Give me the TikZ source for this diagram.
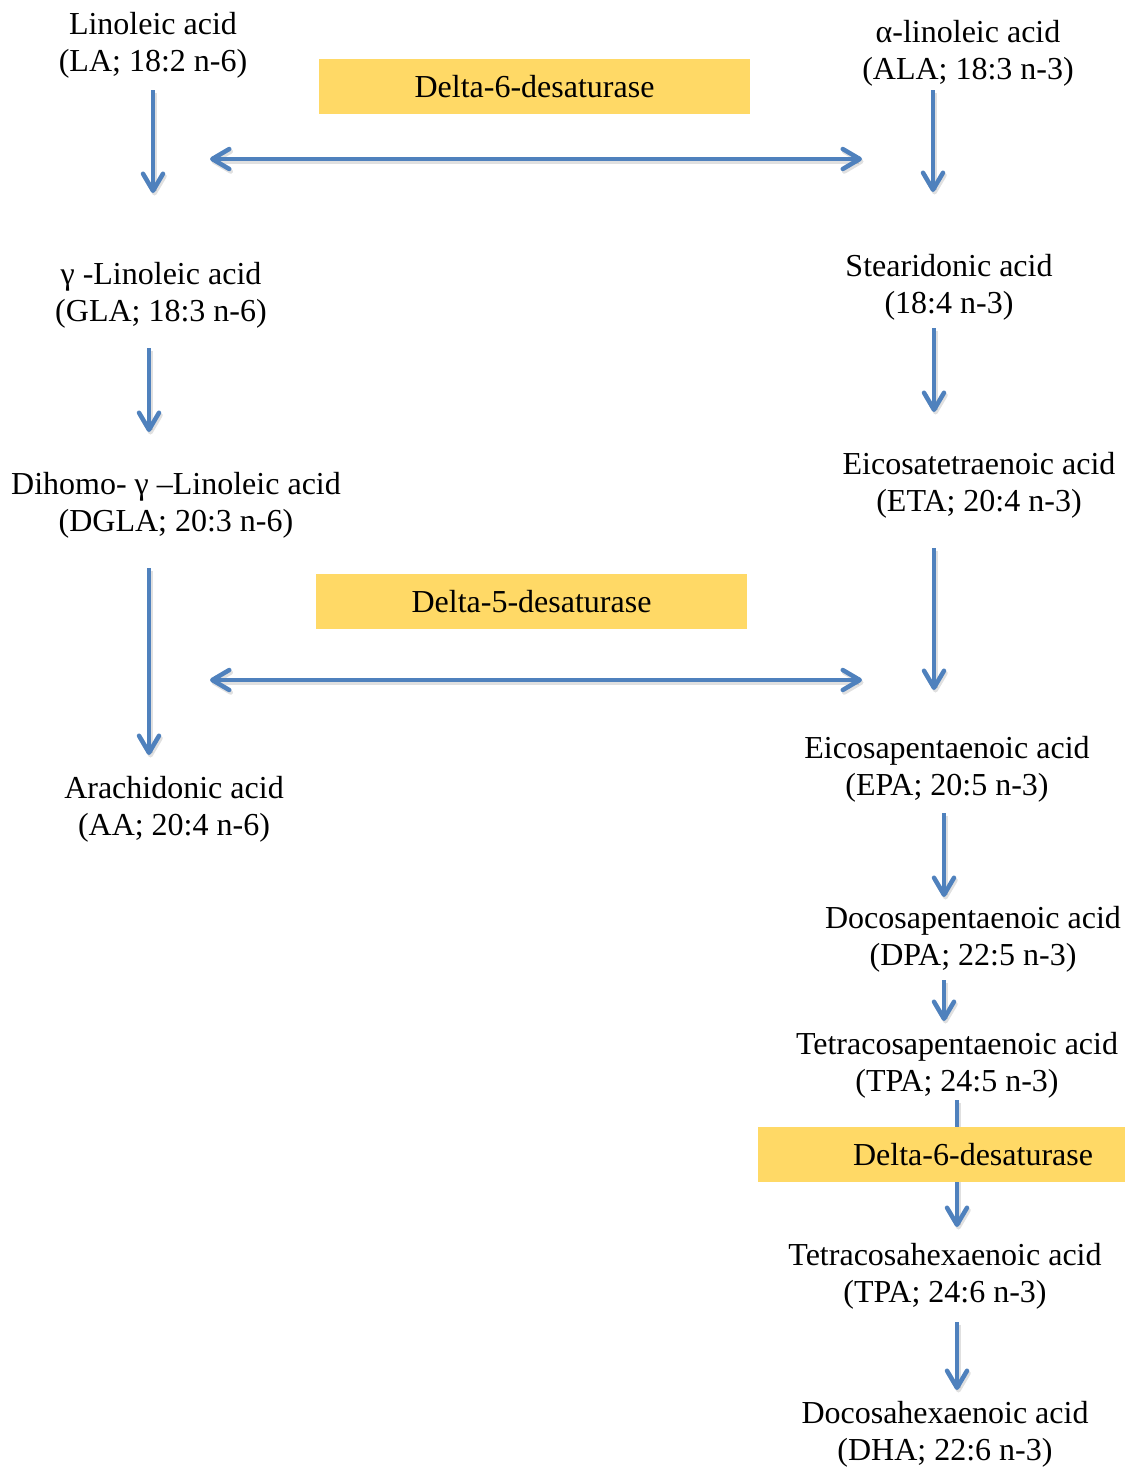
\documentclass[tikz,border=0pt]{standalone}
\usepackage{fontspec}
\setmainfont{Liberation Serif}
\usetikzlibrary{arrows.meta}
\definecolor{arrblue}{HTML}{4F81BD}
\definecolor{enzyellow}{HTML}{FFD966}
\tikzset{
  acid/.style={align=center, inner sep=0pt, font=\fontsize{32}{37}\selectfont, yshift=-1.5pt},
  enz/.style={fill=enzyellow, minimum width=431pt, minimum height=55pt, inner sep=0pt, font=\fontsize{32}{37}\selectfont},
  tipb/.tip={Straight Barb[length=17pt,width=20pt,round]},
  arr/.style={draw=arrblue, line width=4.5pt, -tipb,
    preaction={draw=black, opacity=0.12, line width=4.5pt, -tipb, transform canvas={shift={(1.5pt,-2.5pt)}}}},
  darr/.style={draw=arrblue, line width=4.5pt, tipb-tipb,
    preaction={draw=black, opacity=0.12, line width=4.5pt, tipb-tipb, transform canvas={shift={(1.5pt,-2.5pt)}}}}
}
\begin{document}
\begin{tikzpicture}[x=1pt, y=-1pt]
\useasboundingbox (0,0) rectangle (1125,1467);
% acids
\node[acid] (LA)   at (153,44)   {Linoleic acid\\(LA; 18:2 n-6)};
\node[acid] (ALA)  at (968,52)   {α-linoleic acid\\(ALA; 18:3 n-3)};
\node[acid] (GLA)  at (161,294)  {γ -Linoleic acid\\(GLA; 18:3 n-6)};
\node[acid] (SDA)  at (949,286)  {Stearidonic acid\\(18:4 n-3)};
\node[acid] (DGLA) at (176,504)  {Dihomo- γ –Linoleic acid\\(DGLA; 20:3 n-6)};
\node[acid] (ETA)  at (979,484)  {Eicosatetraenoic acid\\(ETA; 20:4 n-3)};
\node[acid] (AA)   at (174,808)  {Arachidonic acid\\(AA; 20:4 n-6)};
\node[acid] (EPA)  at (947,768)  {Eicosapentaenoic acid\\(EPA; 20:5 n-3)};
\node[acid] (DPA)  at (973,938)  {Docosapentaenoic acid\\(DPA; 22:5 n-3)};
\node[acid] (TPA)  at (957,1064) {Tetracosapentaenoic acid\\(TPA; 24:5 n-3)};
\node[acid] (THA)  at (945,1275) {Tetracosahexaenoic acid\\(TPA; 24:6 n-3)};
\node[acid] (DHA)  at (945,1433) {Docosahexaenoic acid\\(DHA; 22:6 n-3)};
% enzymes
\node[enz] (D6a) at (534.5,86.5) {Delta-6-desaturase};
\node[enz] (D5)  at (531.5,601.5) {Delta-5-desaturase};
% vertical arrows
\draw[arr] ([shift={(0,44.5)}]LA.center) -- ([shift={(-8,-102.5)}]GLA.center);
\draw[arr] ([shift={(-35,36.5)}]ALA.center) -- ([shift={(-16,-95.5)}]SDA.center);
\draw[arr] ([shift={(-12,52.5)}]GLA.center) -- ([shift={(-27,-73.5)}]DGLA.center);
\draw[arr] ([shift={(-15,40.5)}]SDA.center) -- ([shift={(-45,-73.5)}]ETA.center);
\draw[arr] ([shift={(-27,62.5)}]DGLA.center) -- ([shift={(-25,-54.5)}]AA.center);
\draw[arr] ([shift={(-45,62.5)}]ETA.center) -- ([shift={(-13,-79.5)}]EPA.center);
\draw[arr] ([shift={(-3,43.5)}]EPA.center) -- ([shift={(-29,-42.5)}]DPA.center);
\draw[arr] ([shift={(-29,40.5)}]DPA.center) -- ([shift={(-13,-44.5)}]TPA.center);
\draw[arr] ([shift={(0,34.5)}]TPA.center) -- ([shift={(12,-49.5)}]THA.center);
\draw[arr] ([shift={(12,45.5)}]THA.center) -- ([shift={(12,-44.5)}]DHA.center);
% horizontal double arrows
\draw[darr] ([shift={(-324.5,72.5)}]D6a.center) -- ([shift={(327.5,72.5)}]D6a.center);
\draw[darr] ([shift={(-321.5,78.5)}]D5.center) -- ([shift={(330.5,78.5)}]D5.center);
% bottom enzyme box over the arrow
\node[enz, minimum width=367pt, text width=303pt, align=right, inner xsep=32pt] (D6b) at (941.5,1154.5) {Delta-6-desaturase};
\end{tikzpicture}
\end{document}
